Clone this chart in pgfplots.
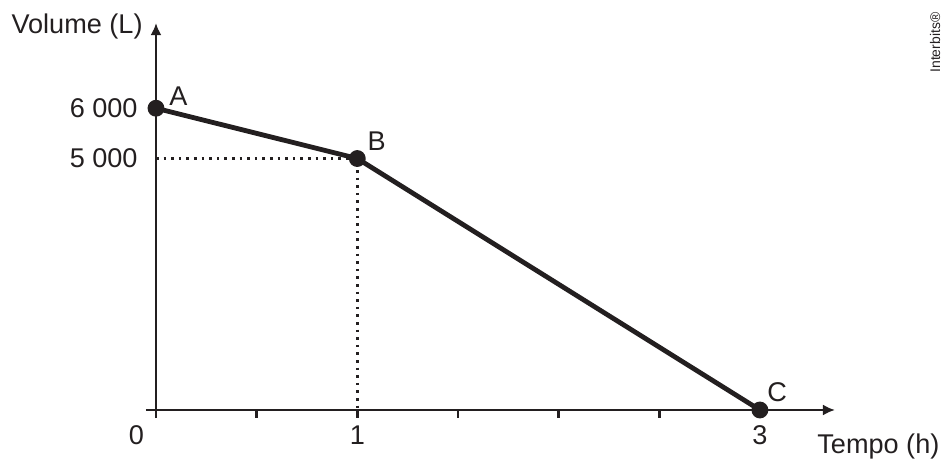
\documentclass[border=0pt]{standalone}
\usepackage{fontspec}
\setmainfont{Liberation Sans}
\usepackage{pgfplots}
\pgfplotsset{compat=1.18}
\usetikzlibrary{arrows.meta}
\definecolor{ink}{HTML}{231F20}
\newcommand\lbl{\fontsize{13.6}{16.3}\selectfont}

\begin{document}
\begin{tikzpicture}
\begin{axis}[
    scale only axis,
    width=344.5bp, height=197.5bp,
    xmin=-0.0497, xmax=3.373,
    ymin=-160, ymax=7694,
    axis lines=middle,
    axis line style={ink, line width=1.3bp},
    x axis line style={-{Latex[length=6bp,width=5.5bp]}},
    y axis line style={-{Latex[length=6bp,width=5.5bp]}},
    xtick={0,0.5,...,3},
    xticklabels={,,1,,,,3},
    ytick={5000,6000},
    yticklabels={5 000,6 000},
    tick align=outside,
    major tick length=4bp,
    every tick/.style={ink, line width=1.3bp},
    ytick style={draw=none},
    xticklabel style={anchor=north, inner sep=0pt, yshift=-3.5bp},
    yticklabel style={anchor=east, inner sep=0pt, xshift=-5bp},
    tick label style={font=\lbl, text=ink},
    scaled y ticks=false,
    clip=false,
]
% dotted guides to B
\addplot[ink, line width=1.3bp, dash pattern=on 1.3bp off 2.5bp]
    coordinates {(0,5000) (1,5000) (1,0)};
% volume over time
\addplot[ink, line width=2.4bp, line join=round,
    mark=*, mark size=3bp, mark options={fill=ink, draw=ink, solid}]
    coordinates {(0,6000) (1,5000) (3,0)};

\node[anchor=base west, inner sep=0, font=\lbl, text=ink]
    at ([shift={(6.5bp,1.5bp)}]axis cs:0,6000) {A};
\node[anchor=base west, inner sep=0, font=\lbl, text=ink]
    at ([shift={(5bp,4bp)}]axis cs:1,5000) {B};
\node[anchor=base west, inner sep=0, font=\lbl, text=ink]
    at ([shift={(3.5bp,4bp)}]axis cs:3,0) {C};
\node[anchor=north, inner sep=0, font=\lbl, text=ink]
    at ([shift={(-9.75bp,-7.5bp)}]axis cs:0,0) {0};
\node[anchor=base west, inner sep=0, font=\lbl, text=ink]
    at ([shift={(330.5bp,-21.5bp)}]axis cs:0,0) {Tempo (h)};
\node[anchor=base east, inner sep=0, font=\lbl, text=ink]
    at ([shift={(-6.5bp,188bp)}]axis cs:0,0) {Volume (L)};
\node[rotate=90, anchor=base west, inner sep=0,
    font=\fontsize{7}{8.4}\selectfont, text=ink]
    at ([shift={(392bp,168.5bp)}]axis cs:0,0) {Interbits®};

\coordinate (O) at (axis cs:0,0);
\end{axis}
\pgfresetboundingbox
\path ([shift={(-78bp,-29.5bp)}]O) rectangle ([shift={(397bp,205bp)}]O);
\end{tikzpicture}
\end{document}
